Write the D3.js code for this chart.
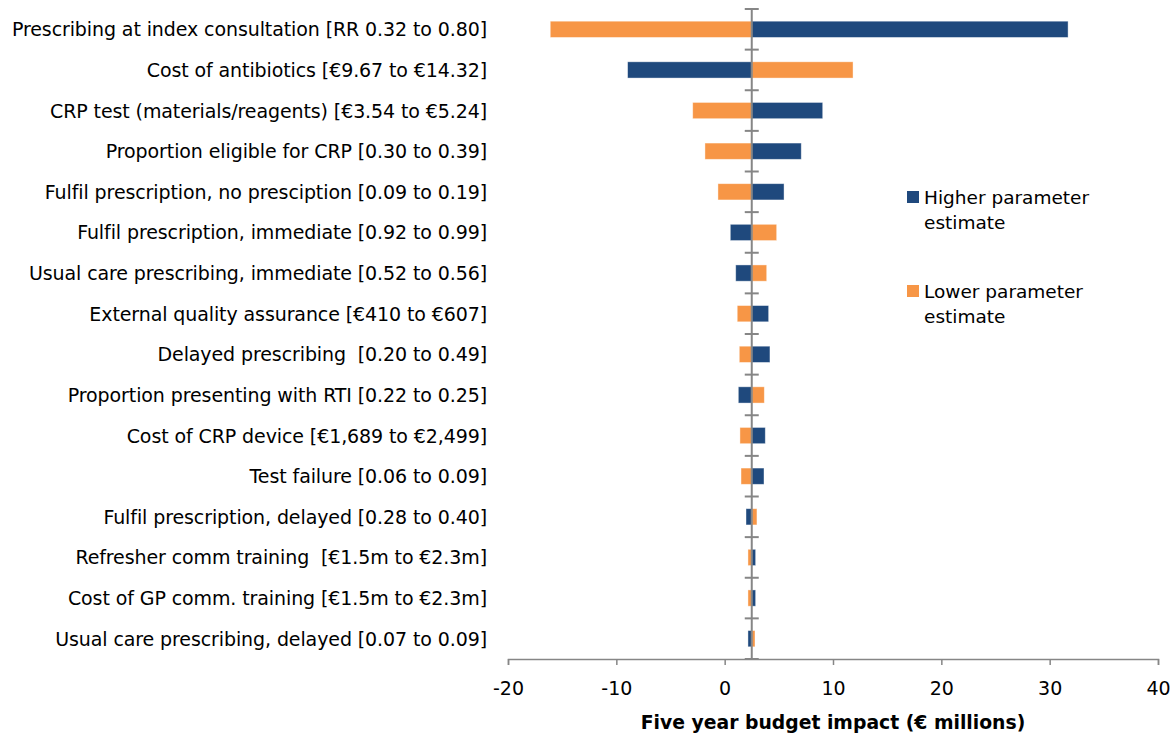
<!DOCTYPE html>
<html>
<head>
<meta charset="utf-8">
<script src="https://cdn.jsdelivr.net/npm/d3@7"></script>
<style>
  body { margin: 0; background: #fff; }
  text { font-family: "DejaVu Sans", Verdana, sans-serif; fill: #000; }
</style>
</head>
<body>
<div id="chart"></div>
<script>
// parameters, top to bottom
var parameters = [
  "Prescribing at index consultation [RR 0.32 to 0.80]",
  "Cost of antibiotics [€9.67 to €14.32]",
  "CRP test (materials/reagents) [€3.54 to €5.24]",
  "Proportion eligible for CRP [0.30 to 0.39]",
  "Fulfil prescription, no presciption [0.09 to 0.19]",
  "Fulfil prescription, immediate [0.92 to 0.99]",
  "Usual care prescribing, immediate [0.52 to 0.56]",
  "External quality assurance [€410 to €607]",
  "Delayed prescribing  [0.20 to 0.49]",
  "Proportion presenting with RTI [0.22 to 0.25]",
  "Cost of CRP device [€1,689 to €2,499]",
  "Test failure [0.06 to 0.09]",
  "Fulfil prescription, delayed [0.28 to 0.40]",
  "Refresher comm training  [€1.5m to €2.3m]",
  "Cost of GP comm. training [€1.5m to €2.3m]",
  "Usual care prescribing, delayed [0.07 to 0.09]"
];

// budget impact (€ millions) with the higher / lower parameter estimate
var higherEstimate = [31.7, -8.96, 9.05, 7.07, 5.48, 0.52, 1.02, 4.06, 4.18, 1.26, 3.75, 3.63, 1.97, 2.86, 2.86, 2.15];
var lowerEstimate  = [-16.1, 11.85, -2.95, -1.82, -0.62, 4.80, 3.88, 1.16, 1.35, 3.66, 1.41, 1.51, 2.98, 2.15, 2.15, 2.80];

var baseCase = 2.5;
var xTicks = [-20, -10, 0, 10, 20, 30, 40];

var width = 1173, height = 735;
var plotLeft = 508, plotRight = 1158, plotTop = 9, plotBottom = 659;

var svg = d3.select("#chart").append("svg")
    .attr("width", width)
    .attr("height", height);

var x = d3.scaleLinear().domain([-20, 40]).range([plotLeft, plotRight]);
var y = d3.scaleBand().domain(parameters).range([plotTop, plotBottom])
    .paddingInner(0.6).paddingOuter(0.3);

var blue = "#1F497D", orange = "#F79646", grey = "#868686";

// bars
function drawBars(values, color) {
  svg.append("g").selectAll("rect")
    .data(parameters)
    .enter().append("rect")
      .attr("x", function(d, i) { return x(Math.min(values[i], baseCase)); })
      .attr("y", function(d) { return y(d); })
      .attr("width", function(d, i) { return Math.abs(x(values[i]) - x(baseCase)); })
      .attr("height", y.bandwidth())
      .attr("fill", color)
      .attr("stroke", "#fff")
      .attr("stroke-opacity", 0.5)
      .attr("stroke-width", 0.8);
}
drawBars(lowerEstimate, orange);
drawBars(higherEstimate, blue);

// x axis
var xAxis = d3.axisBottom(x).tickValues(xTicks).tickSize(6).tickPadding(17)
    .tickFormat(function(d) { return d; });
var gx = svg.append("g")
    .attr("transform", "translate(0," + plotBottom + ")")
    .call(xAxis);
gx.select(".domain").attr("stroke", grey).attr("stroke-width", 1.5);
gx.selectAll(".tick line").attr("stroke", grey).attr("stroke-width", 1.5);
gx.selectAll(".tick text")
    .style("font-size", "19px")
    .style("font-family", "'DejaVu Sans', Verdana, sans-serif")
    .attr("fill", "#000");

svg.append("text")
    .attr("x", (plotLeft + plotRight) / 2)
    .attr("y", 729)
    .attr("text-anchor", "middle")
    .style("font-size", "18.8px")
    .style("font-weight", "bold")
    .text("Five year budget impact (€ millions)");

// vertical category axis at the base case
var cx = x(baseCase);
svg.append("line")
    .attr("x1", cx).attr("x2", cx)
    .attr("y1", plotTop).attr("y2", plotBottom)
    .attr("stroke", grey).attr("stroke-width", 2);

var boundaries = parameters.map(function(d, i) { return plotTop + i * y.step(); });
boundaries.push(plotBottom);
svg.append("g").selectAll("line")
  .data(boundaries)
  .enter().append("line")
    .attr("x1", cx - 7).attr("x2", cx + 7)
    .attr("y1", function(d) { return d; })
    .attr("y2", function(d) { return d; })
    .attr("stroke", grey).attr("stroke-width", 2);

// category labels
svg.append("g").selectAll("text")
  .data(parameters)
  .enter().append("text")
    .attr("x", 487)
    .attr("y", function(d) { return y(d) + y.bandwidth() / 2 + 7; })
    .attr("text-anchor", "end")
    .style("font-size", "19px")
    .style("letter-spacing", "-0.1px")
    .style("white-space", "pre")
    .text(function(d) { return d; });

// legend
var legend = [
  { color: blue, lines: ["Higher parameter", "estimate"], y: 191 },
  { color: orange, lines: ["Lower parameter", "estimate"], y: 285 }
];
var lg = svg.append("g").selectAll("g")
  .data(legend)
  .enter().append("g")
    .attr("transform", function(d) { return "translate(907," + d.y + ")"; });
lg.append("rect")
    .attr("width", 12).attr("height", 12)
    .attr("fill", function(d) { return d.color; });
lg.append("text")
    .attr("x", 17)
    .attr("y", 13)
    .style("font-size", "18.5px")
    .selectAll("tspan")
    .data(function(d) { return d.lines; })
    .enter().append("tspan")
      .attr("x", 17)
      .attr("dy", function(d, i) { return i === 0 ? 0 : 25; })
      .text(function(d) { return d; });
</script>
</body>
</html>
